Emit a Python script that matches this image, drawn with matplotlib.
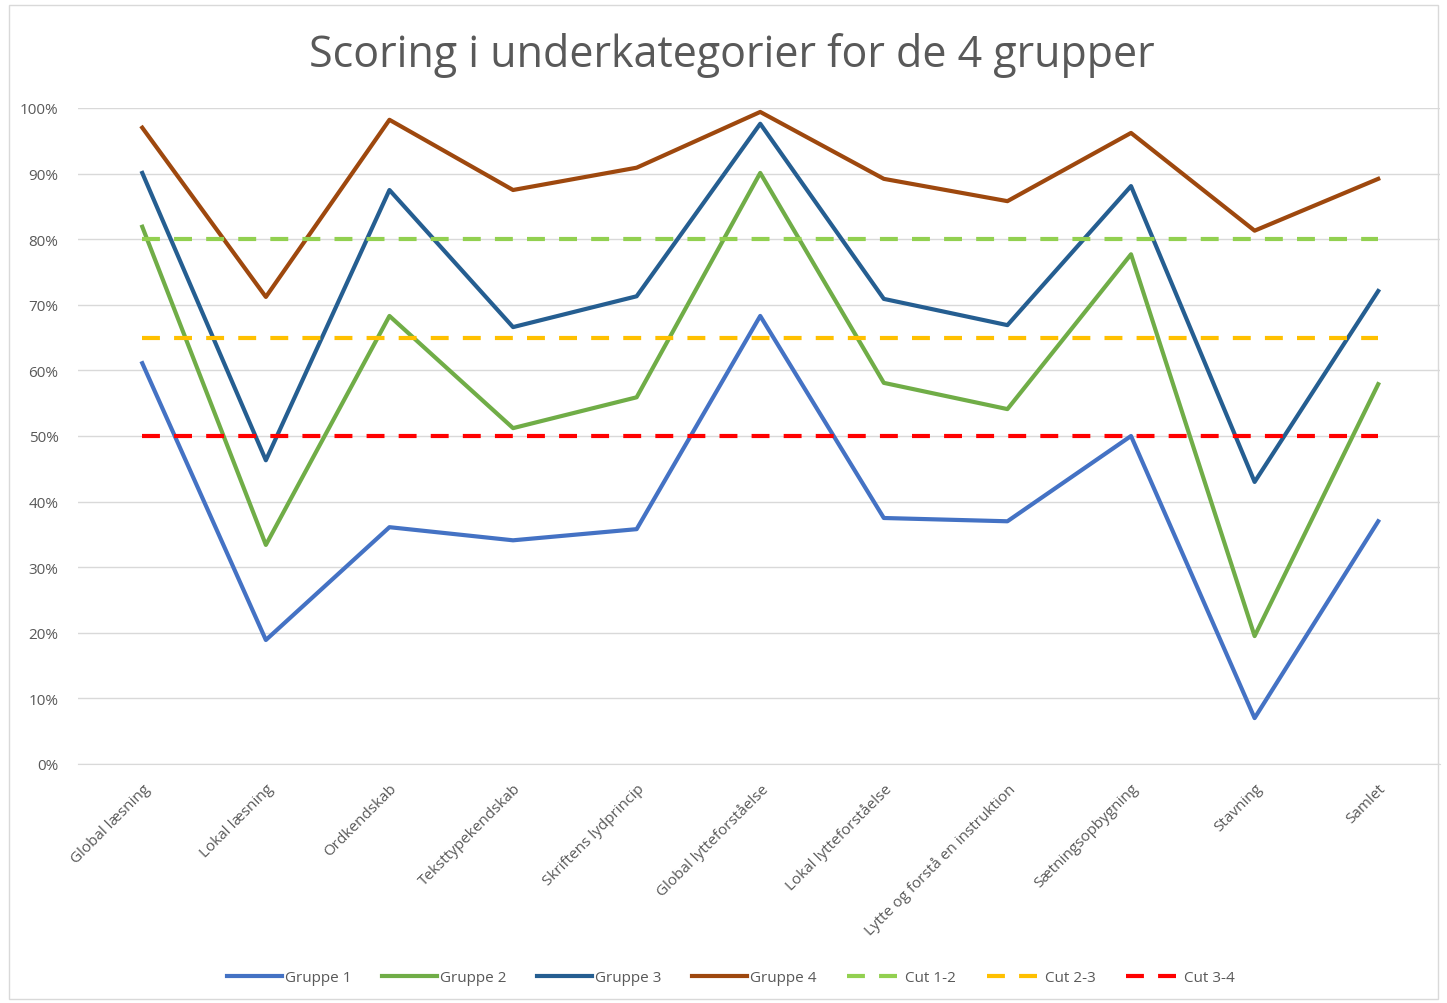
import matplotlib.pyplot as plt
from matplotlib.ticker import PercentFormatter
from matplotlib.patches import Rectangle

plt.rcParams['font.family'] = ['Open Sans', 'DejaVu Sans']

kategorier = ["Global læsning", "Lokal læsning", "Ordkendskab", "Teksttypekendskab",
              "Skriftens lydprincip", "Global lytteforståelse", "Lokal lytteforståelse",
              "Lytte og forstå en instruktion", "Sætningsopbygning", "Stavning", "Samlet"]

gruppe1 = [61.1, 18.9, 36.1, 34.1, 35.8, 68.3, 37.5, 37.0, 50.0, 7.0, 37.0]
gruppe2 = [81.9, 33.4, 68.3, 51.2, 55.9, 90.1, 58.1, 54.1, 77.7, 19.5, 57.9]
gruppe3 = [90.1, 46.3, 87.5, 66.6, 71.3, 97.6, 70.9, 66.9, 88.1, 43.0, 72.1]
gruppe4 = [97.0, 71.2, 98.2, 87.5, 90.9, 99.4, 89.2, 85.8, 96.2, 81.3, 89.2]
cut12 = [80] * 11
cut23 = [65] * 11
cut34 = [50] * 11

fig = plt.figure(figsize=(14.47, 10.04), dpi=100)
fig.patches.append(Rectangle((0.006, 0.004), 0.988, 0.99, transform=fig.transFigure,
                             fill=False, edgecolor='#d9d9d9', linewidth=1))
ax = fig.add_axes([78 / 1447, 1 - 765 / 1004, (1440 - 78) / 1447, (765 - 109) / 1004])

x = range(len(kategorier))
streg = (0, (4.3, 3.4))
ax.plot(x, gruppe1, color='#4472C4', lw=3, label='Gruppe 1')
ax.plot(x, gruppe2, color='#70AD47', lw=3, label='Gruppe 2')
ax.plot(x, gruppe3, color='#255E91', lw=3, label='Gruppe 3')
ax.plot(x, gruppe4, color='#9E480E', lw=3, label='Gruppe 4')
ax.plot(x, cut12, color='#92D050', lw=3, ls=streg, label='Cut 1-2')
ax.plot(x, cut23, color='#FFC000', lw=3, ls=streg, label='Cut 2-3')
ax.plot(x, cut34, color='#FF0000', lw=3, ls=streg, label='Cut 3-4')

ax.set_xlim(-0.52, 10.5)
ax.set_ylim(0, 100)
ax.set_yticks(range(0, 101, 10))
ax.yaxis.set_major_formatter(PercentFormatter(decimals=0))
ax.grid(axis='y', color='#d9d9d9', lw=1)
ax.set_axisbelow(True)
for s in ax.spines.values():
    s.set_visible(False)
ax.spines['bottom'].set_visible(True)
ax.spines['bottom'].set_color('#d9d9d9')
ax.tick_params(axis='both', length=0, colors='#595959', labelsize=11)
ax.tick_params(axis='y', pad=14)
ax.set_xticks(list(x))
ax.set_xticklabels(kategorier, rotation=45, ha='right', rotation_mode='anchor')
ax.tick_params(axis='x', pad=12)

fig.text(0.506, 0.945, 'Scoring i underkategorier for de 4 grupper', ha='center', va='center',
         fontsize=31, color='#595959')

fig.legend(loc='center', bbox_to_anchor=(0.505, 0.025), ncol=7, frameon=False, fontsize=11,
           labelcolor='#595959', handlelength=3.6, handletextpad=0.2, columnspacing=2.0)

fig.savefig('out.png', dpi=100)
